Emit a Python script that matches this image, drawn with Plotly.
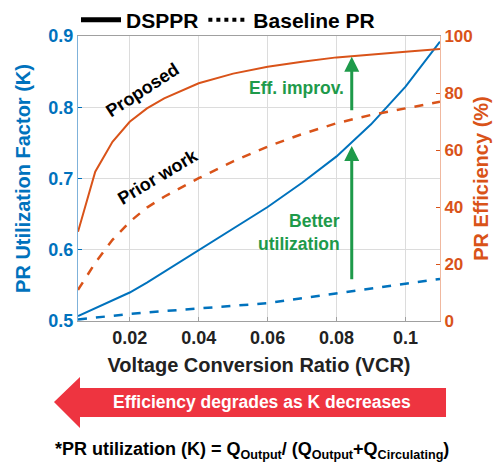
import plotly.graph_objects as go

# ---- data ----
vcr = [0.005, 0.01, 0.015, 0.02, 0.025, 0.03, 0.04, 0.05, 0.06, 0.07, 0.08, 0.09, 0.1, 0.11]
k_dsppr = [0.507, 0.518, 0.529, 0.540, 0.554, 0.569, 0.600, 0.629, 0.660, 0.694, 0.731, 0.776, 0.829, 0.892]
k_base = [0.502, 0.505, 0.507, 0.510, 0.512, 0.514, 0.517, 0.521, 0.525, 0.532, 0.539, 0.546, 0.553, 0.559]
eff_dsppr = [31.3, 52.4, 62.9, 69.9, 74.6, 78.1, 83.4, 86.8, 89.2, 91.0, 92.5, 93.6, 94.5, 95.4]
eff_base = [10.9, 20.4, 28.5, 34.8, 39.8, 43.6, 50.1, 56.0, 61.2, 65.6, 69.4, 72.3, 74.6, 76.9]

x_ticks = [0.02, 0.04, 0.06, 0.08, 0.1]
x_tick_labels = ["0.02", "0.04", "0.06", "0.08", "0.1"]
k_ticks = [0.5, 0.6, 0.7, 0.8, 0.9]
eff_ticks = [0, 20, 40, 60, 80, 100]

BLUE = "#0072BD"
ORANGE = "#D95319"
GREEN = "#1E9A4A"
RED = "#EE3440"
FONT = "Liberation Sans, Arial, sans-serif"

W, H = 502, 472
ML, MR, MT, MB = 78, 62, 36, 151
PW, PH = W - ML - MR, H - MT - MB


def px(x):
    return (x - ML) / PW


def py(y):
    return (H - MB - y) / PH


fig = go.Figure()
fig.add_trace(go.Scatter(x=vcr, y=k_dsppr, mode="lines", line=dict(color=BLUE, width=2), showlegend=False))
fig.add_trace(go.Scatter(x=vcr, y=k_base, mode="lines", line=dict(color=BLUE, width=2.5, dash="dash"), showlegend=False))
fig.add_trace(go.Scatter(x=vcr, y=eff_dsppr, mode="lines", line=dict(color=ORANGE, width=2), yaxis="y2", showlegend=False))
fig.add_trace(go.Scatter(x=vcr, y=eff_base, mode="lines", line=dict(color=ORANGE, width=2.5, dash="dash"), yaxis="y2", showlegend=False))
# legend entries
fig.add_trace(go.Scatter(x=[None], y=[None], mode="lines", line=dict(color="black", width=5), name="<b>DSPPR</b>"))
fig.add_trace(go.Scatter(x=[None], y=[None], mode="lines", line=dict(color="black", width=4, dash="dot"), name="<b>Baseline PR</b>"))

fig.update_layout(
    width=W, height=H,
    margin=dict(l=ML, r=MR, t=MT, b=MB, autoexpand=False),
    plot_bgcolor="white", paper_bgcolor="white",
    font=dict(family=FONT, size=18, color="black"),
    legend=dict(orientation="h", x=px(76), y=py(20), xanchor="left", yanchor="middle",
                font=dict(size=21, family=FONT), bgcolor="rgba(0,0,0,0)", itemwidth=40,
                tracegroupgap=0),
    xaxis=dict(range=[0.005, 0.11], tickvals=x_ticks, ticktext=[f"<b>{t}</b>" for t in x_tick_labels],
               showgrid=True, gridcolor="#DCDCDC", gridwidth=1, zeroline=False,
               showline=True, linecolor="#A0A0A0", linewidth=1, mirror=True,
               ticks="inside", ticklen=4, tickcolor="#A0A0A0",
               tickfont=dict(size=18, color="#222222"),
               title=dict(text="<b>Voltage Conversion Ratio (VCR)</b>", font=dict(size=20, color="#222222"), standoff=11)),
    yaxis=dict(range=[0.5, 0.9], tickvals=k_ticks, ticktext=[f"<b>{t}</b>" for t in k_ticks],
               showgrid=True, gridcolor="#DCDCDC", gridwidth=1, zeroline=False,
               showline=True, linecolor="#7FB2DA", linewidth=1,
               ticks="inside", ticklen=4, tickcolor=BLUE,
               tickfont=dict(size=18, color=BLUE),
               title=dict(text="<b>PR Utilization Factor (K)</b>", font=dict(size=20, color=BLUE), standoff=12)),
    yaxis2=dict(range=[0, 100], tickvals=eff_ticks, ticktext=[f"<b>{t}</b>" for t in eff_ticks],
                overlaying="y", side="right", showgrid=False, zeroline=False,
                showline=True, linecolor="#F0B89F", linewidth=1,
                ticks="inside", ticklen=4, tickcolor=ORANGE,
                tickfont=dict(size=17, color=ORANGE),
                title=dict(text="<b>PR Efficiency (%)</b>", font=dict(size=20, color=ORANGE), standoff=2)),
)

# text labels on curves
fig.add_annotation(x=0.0238, y=81, xref="x", yref="y2", text="<b>Proposed</b>", showarrow=False,
                   textangle=-33, font=dict(size=18, color="black"))
fig.add_annotation(x=0.0281, y=50.5, xref="x", yref="y2", text="<b>Prior work</b>", showarrow=False,
                   textangle=-31, font=dict(size=18, color="black"))
fig.add_annotation(x=0.0683, y=81.8, xref="x", yref="y2", text="<b>Eff. improv.</b>", showarrow=False,
                   font=dict(size=17.5, color=GREEN))
fig.add_annotation(x=0.0815, y=30.9, xref="x", yref="y2", text="<b>Better<br>utilization</b>", showarrow=False,
                   xanchor="right", align="right", font=dict(size=17.5, color=GREEN))

# green arrows
fig.add_annotation(x=0.0844, y=92.7, ax=0.0844, ay=73.4, xref="x", yref="y2", axref="x", ayref="y2",
                   text="", showarrow=True, arrowhead=2, arrowsize=1, arrowwidth=3, arrowcolor=GREEN)
fig.add_annotation(x=0.0844, y=61.4, ax=0.0844, ay=14.1, xref="x", yref="y2", axref="x", ayref="y2",
                   text="", showarrow=True, arrowhead=2, arrowsize=1, arrowwidth=3, arrowcolor=GREEN)

# red arrow
pts = [(54, 402), (80, 377), (80, 388), (446, 388), (446, 417), (80, 417), (80, 428)]
path = "M " + " L ".join(f"{px(a):.4f},{py(b):.4f}" for a, b in pts) + " Z"
fig.add_shape(type="path", path=path, xref="paper", yref="paper", fillcolor=RED, line=dict(width=0))
fig.add_annotation(x=px(262), y=py(402), xref="paper", yref="paper", xanchor="center", yanchor="middle",
                   text="<b>Efficiency degrades as K decreases</b>",
                   showarrow=False, font=dict(size=17.5, color="white"))

# formula
fig.add_annotation(x=px(252), y=py(450), xref="paper", yref="paper", xanchor="center", yanchor="middle",
                   text="<b>*PR utilization (K) = Q<sub>Output</sub>/ (Q<sub>Output</sub>+Q<sub>Circulating</sub>)</b>",
                   showarrow=False, font=dict(size=18, color="black"))

fig.write_html("out.html", config={"displayModeBar": False},
               post_script="document.body.style.margin='0';document.body.style.padding='0';")
